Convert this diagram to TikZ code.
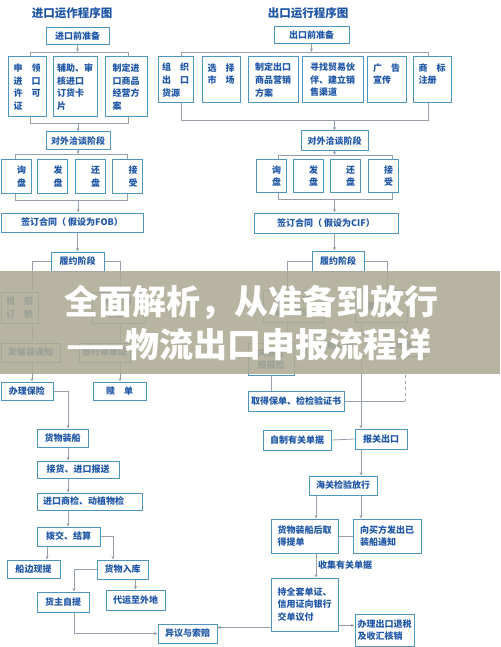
\documentclass[tikz,border=0pt]{standalone}
\usepackage{fontspec}
\usepackage{tikz}
\usetikzlibrary{arrows.meta}

\newfontfamily\cjk{Noto Sans CJK SC}
\definecolor{boxline}{RGB}{78,150,192}
\definecolor{boxtext}{RGB}{30,86,166}
\definecolor{linegray}{RGB}{150,158,172}
\definecolor{bannergray}{RGB}{174,171,150}

\begin{document}
\begin{tikzpicture}[x=1pt, y=-1pt,
    box/.style={draw=boxline, line width=1pt, fill=white, text=boxtext, inner sep=1pt,
        font=\cjk\bfseries\fontsize{9}{12.6}\selectfont, align=center},
    qbox/.style={box, align=right, text width=20, inner xsep=5, minimum height=33},
    conn/.style={draw=linegray, line width=0.8pt},
    arr/.style={conn, -{Stealth[length=3.5pt,width=3pt]}},
    title/.style={text=boxtext, font=\cjk\bfseries\fontsize{11.5}{13}\selectfont},
    lbl/.style={text=boxtext, font=\cjk\bfseries\fontsize{9}{11}\selectfont, inner sep=0pt},
    headline/.style={text=white, font=\cjk\bfseries\fontsize{34}{36}\selectfont, inner sep=0pt}
    ]

    \fill[white] (0,0) rectangle (500,647);
    \useasboundingbox (0,0) rectangle (500,647);

    % Bracket lines behind the box rows
    \coordinate (impbrkA) at (30,52);
    \coordinate (impbrkB) at (128,123);
    \coordinate (expbrkA) at (181,52);
    \coordinate (expbrkB) at (428,120);
    \coordinate (impnegA) at (15,154);
    \coordinate (impnegB) at (127,200);
    \coordinate (expnegA) at (278,155);
    \coordinate (expnegB) at (392,199);
    \draw[conn] (impbrkA) rectangle (impbrkB);
    \draw[conn] (expbrkA) rectangle (expbrkB);
    \draw[conn] (impnegA) rectangle (impnegB);
    \draw[conn] (expnegA) rectangle (expnegB);

    % Lanes for the vertical connectors
    \coordinate (impL) at (32,0);
    \coordinate (impR) at (120,0);
    \coordinate (impM) at (68,0);
    \coordinate (impS) at (47,0);
    \coordinate (impT) at (113,0);
    \coordinate (impU) at (74,0);
    \coordinate (expL) at (287,0);
    \coordinate (expR) at (387,0);
    \coordinate (expM) at (361,0);
    \coordinate (expN) at (316,0);

    % Import side
    \node[title] (imptitle) at (72,13) {进口运作程序图};
    \node[box, minimum width=63, minimum height=17] (imppre) at (77.5,36.5) {进口前准备};

    \node[box, align=left, minimum width=38, minimum height=60] (implicence) at (27,87) {申　领\\进　口\\许　可\\证};
    \node[box, align=left, minimum width=44, minimum height=60] (impcard) at (75,87) {辅助、审\\核进口\\订货卡\\片};
    \node[box, align=left, minimum width=42, minimum height=60] (impplan) at (126,87) {制定进\\口商品\\经营方\\案};

    \node[box, minimum width=64, minimum height=18] (impnego) at (78,141) {对外洽谈阶段};
    \node[qbox] (impinq) at (16,176.5) {询\\盘};
    \node[qbox] (impoffer) at (52.5,176.5) {发\\盘};
    \node[qbox] (impcounter) at (90,176.5) {还\\盘};
    \node[qbox] (impaccept) at (127.5,176.5) {接\\受};

    \node[box, minimum width=142, minimum height=19] (impsign) at (72,222.5) {签订合同（ 假设为FOB）};
    \node[box, minimum width=53, minimum height=19] (impperf) at (77.5,261.5) {履约阶段};

    \node[box, align=left, minimum width=37, minimum height=31] (impship) at (19.5,307.5) {租　船\\订　舱};
    \node[box, align=left, minimum width=53, minimum height=31] (implc) at (118.5,307.5) {开立信\\用证};
    \node[box, minimum width=59, minimum height=19] (impnotice) at (30.5,352.5) {发催装通知};
    \node[box, minimum width=51, minimum height=19] (impbank) at (104.5,352.5) {银行审单证};
    \node[box, minimum width=52, minimum height=18] (impins) at (27,391) {办理保险};
    \node[box, minimum width=53, minimum height=18] (impredeem) at (119.5,391) {赎　单};

    \node[box, minimum width=51, minimum height=18] (impload) at (62.5,438) {货物装船};
    \node[box, minimum width=82, minimum height=17] (impdecl) at (78,469.5) {接货、进口报送};
    \node[box, align=left, text width=93, inner xsep=6, minimum height=17] (impinsp) at (89.5,501.5) {进口商检、动植物检};
    \node[box, minimum width=63, minimum height=19] (impsettle) at (68.5,536.5) {拨交、结算};
    \node[box, minimum width=53, minimum height=18] (impside) at (33.5,569) {船边现提};
    \node[box, minimum width=51, minimum height=19] (impstore) at (122.5,569.5) {货物入库};
    \node[box, minimum width=52, minimum height=20] (impself) at (63,602) {货主自提};
    \node[box, minimum width=59, minimum height=20] (impfwd) at (135.5,600) {代运至外地};
    \node[box, minimum width=59, minimum height=19] (impclaim) at (187.5,633.5) {异议与索赔};

    % Export side
    \node[title] (exptitle) at (308,13) {出口运行程序图};
    \node[box, minimum width=75, minimum height=17] (exppre) at (311.5,35.5) {出口前准备};

    \node[box, align=left, minimum width=35, minimum height=46] (expsource) at (175.5,80) {组　织\\出　口\\货源};
    \node[box, align=left, minimum width=38, minimum height=46] (expmarket) at (221,80) {选　择\\市　场\\~};
    \node[box, align=left, minimum width=50, minimum height=46] (expplan) at (273,80) {制定出口\\商品营销\\方案};
    \node[box, align=left, minimum width=61, minimum height=46] (exppartner) at (332.5,80) {寻找贸易伙\\伴、建立销\\售渠道};
    \node[box, align=left, minimum width=39, minimum height=46] (expad) at (386.5,80) {广　告\\宣传\\~};
    \node[box, align=left, minimum width=38, minimum height=46] (expmark) at (432,80) {商　标\\注册\\~};

    \node[box, minimum width=67, minimum height=20] (expnego) at (334.5,141) {对外洽谈阶段};
    \node[qbox] (expinq) at (271,176) {询\\盘};
    \node[qbox] (expoffer) at (308,176) {发\\盘};
    \node[qbox] (expcounter) at (345,176) {还\\盘};
    \node[qbox] (expaccept) at (383,176) {接\\受};

    \node[box, minimum width=144, minimum height=20] (expsign) at (326,223) {签订合同（ 假设为CIF）};
    \node[box, minimum width=52, minimum height=20] (expperf) at (338,261) {履约阶段};

    \node[box, align=left, minimum width=60, minimum height=32] (expcredit) at (293,306) {催证、审\\证、改证};
    \node[box, minimum width=52, minimum height=32] (expgoods) at (381,306) {备　货};
    \node[box, align=left, minimum width=46, minimum height=32] (expreport) at (271,359) {向商检\\局报检};
    \node[box, minimum width=60, minimum height=22] (expship) at (336,345) {租船订舱};
    \node[box, minimum width=40, minimum height=22] (expins) at (405,345) {办理投保};

    \node[box, minimum width=96, minimum height=20] (expcert) at (296,401) {取得保单、检检验证书};
    \node[box, minimum width=68, minimum height=20] (expdocs) at (297,440) {自制有关单据};
    \node[box, minimum width=52, minimum height=20] (expcustoms) at (381,439) {报关出口};
    \node[box, minimum width=68, minimum height=19] (exprelease) at (343,485.5) {海关检验放行};
    \node[box, align=left, minimum width=67, minimum height=34] (expbl) at (304.5,536) {货物装船后取\\得提单};
    \node[box, align=left, minimum width=68, minimum height=34] (expnotify) at (387,536) {向买方发出已\\装船通知};
    \node[box, align=left, minimum width=67, minimum height=53] (exppay) at (304.5,604.5) {持全套单证、\\信用证向银行\\交单议付};
    \node[box, align=left, minimum width=59, minimum height=32] (exprefund) at (384.5,630) {办理出口退税\\及收汇核销};

    % Import connectors
    \draw[arr] (imppre.south) -- (imppre |- impbrkA);
    \draw[arr] (impnego |- impbrkB) -- (impnego.north);
    \draw[arr] (impnego.south) -- (impnego |- impnegA);
    \draw[arr] (impnego |- impnegB) -- (impnego |- impsign.north);
    \draw[arr] (impperf |- impsign.south) -- (impperf.north);
    \draw[arr] (impperf.west) -| (impL |- impship.north);
    \draw[arr] (impperf.east) -| (impR |- implc.north);
    \draw[arr] (impL |- impship.south) -- (impL |- impnotice.north);
    \draw[arr] (impR |- implc.south) -- (impR |- impbank.north);
    \draw[arr] (impL |- impnotice.south) -- (impL |- impins.north);
    \draw[arr] (impR |- impbank.south) -- (impR |- impredeem.north);
    \draw[arr] (impins.east) -| (impM |- impload.north);
    \draw[arr] (impM |- impload.south) -- (impM |- impdecl.north);
    \draw[arr] (impM |- impdecl.south) -- (impM |- impinsp.north);
    \draw[arr] (impM |- impinsp.south) -- (impM |- impsettle.north);
    \draw[arr] (impS |- impsettle.south) -- (impS |- impside.north);
    \draw[arr] (impsettle.east) -| (impT |- impstore.north);
    \draw[arr] (impstore.west) -| (impU |- impself.north);
    \draw[arr] (impfwd |- impstore.south) -- (impfwd.north);
    \draw[arr] (impU |- impself.south) |- (impclaim.west);

    % Export connectors
    \draw[arr] (exppre.south) -- (exppre |- expbrkA);
    \draw[arr] (expnego |- expbrkB) -- (expnego.north);
    \draw[arr] (expnego.south) -- (expnego |- expnegA);
    \draw[arr] (expnego |- expnegB) -- (expnego |- expsign.north);
    \draw[arr] (expnego |- expsign.south) -- (expnego |- expperf.north);
    \draw[arr] (expperf.west) -| (expL |- expcredit.north);
    \draw[arr] (expperf.east) -| (expR |- expgoods.north);
    \draw[arr] (expL |- expcredit.south) -- (expL |- expreport.north);
    \draw[arr] (expM |- expgoods.south) -- (expM |- expship.north);
    \draw[arr] (expins |- expgoods.south) -- (expins.north);
    \draw[conn] (expreport.south) -- (expreport |- expcert.north);
    \draw[conn, dashed] (expins.south) -- (expins |- expcert.east);
    \draw[conn] (expins |- expcert.east) -- (expcert.east);
    \draw[arr] (expM |- expship.south) -- (expM |- expcustoms.north);
    \draw[conn] (expdocs.east) -- (expcustoms.west);
    \draw[arr] (expM |- expcustoms.south) -- (expM |- exprelease.north);
    \draw[arr] (expN |- exprelease.south) -- (expN |- expbl.north);
    \draw[arr] (expM |- exprelease.south) -- (expM |- expnotify.north);
    \draw[conn] (expbl.east) -- (expnotify.west);
    \draw[arr] (expN |- expbl.south) -- (expN |- exppay.north);
    \node[lbl, anchor=west] (collect) at (318,565) {收集有关单据};
    \coordinate (paytap) at ([yshift=6pt]exppay.south east);
    \draw[arr] (paytap) -- (paytap -| exprefund.west);
    \coordinate (claimtap) at ([yshift=4pt]exppay.south west);
    \draw[arr] (claimtap) -- (claimtap -| impclaim.east);

    % Banner across the middle
    \fill[bannergray, opacity=0.88] (0,271) rectangle (500,374);
    \node[headline] (head1) at (251,302) {全面解析，从准备到放行};
    \node[headline] (head2) at (249,345) {——物流出口申报流程详};

\end{tikzpicture}
\end{document}
